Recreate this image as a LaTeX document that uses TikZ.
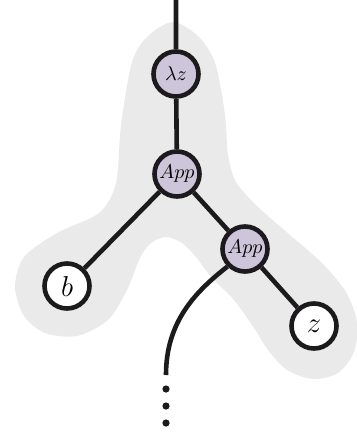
\documentclass[tikz,border=0pt]{standalone}
\usetikzlibrary{backgrounds}
\definecolor{lamfill}{RGB}{205,197,218}
\definecolor{ink}{RGB}{28,26,28}
\definecolor{shade}{RGB}{234,234,234}
\tikzset{
	redex/.style={circle,inner sep=0pt,fill=lamfill,draw=ink,line width=2.3pt,minimum size=22.5pt,font=\fontsize{10}{11}\selectfont},
	leaf/.style={circle,inner sep=0pt,fill=white,draw=ink,line width=2.3pt,minimum size=22.5pt,font=\fontsize{15}{17}\selectfont},
	edge/.style={color=ink, line width=2.3pt},
	dot/.style={circle,fill=ink,inner sep=0pt,minimum size=3.6pt},
	blob/.style={fill=shade}
}
\begin{document}
\begin{tikzpicture}[x=0.5pt,y=-0.5pt]
		\useasboundingbox (0,0) rectangle (357,434);
		\coordinate (top) at (176,0);
		\node[redex] (lz) at (176,74) {$\lambda z$};
		\node[redex] (app1) at (177,174) {$App$};
		\node[redex] (app2) at (245,249) {$App$};
		\node[leaf] (b) at (67,286) {$b$};
		\node[leaf] (z) at (314,326) {$z$};
		\coordinate (end) at (166,375);
		\node[dot] (d1) at (166,389) {};
		\node[dot] (d2) at (166,406) {};
		\node[dot] (d3) at (166,423) {};
		
		\begin{scope}[on background layer]
		% shaded region round the redex
		\fill[blob] plot[smooth cycle] coordinates {
			(173,22) (198,36) (214,60) (222,95) (226,125) (228,155) (236,182)
			(258,207) (290,235) (322,263) (346,292) (357,322) (354,352)
			(338,373) (313,379) (287,370) (268,350) (254,328) (234,300)
			(212,278) (196,257) (182,243) (166,237) (151,243) (140,258)
			(127,290) (108,320) (77,336) (45,333) (24,316) (15,287)
			(24,257) (57,233) (99,213) (116,183) (121,125) (132,62) (148,36)};
		\draw[edge] (top) -- (lz) (lz) -- (app1) (app1) -- (b) (app1) -- (app2) (app2) -- (z);
		\draw[edge] (app2.225) .. controls (195,292) and (166,322) .. (end);
		\end{scope}
	\end{tikzpicture}
\end{document}
